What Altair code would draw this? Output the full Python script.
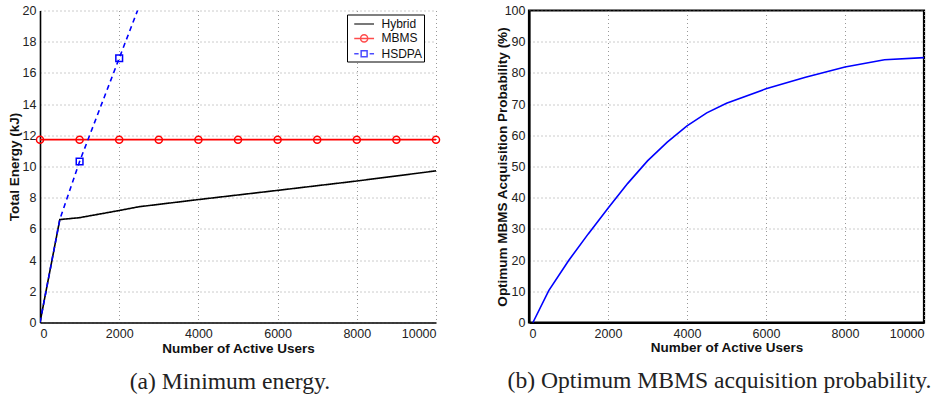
import altair as alt
import pandas as pd

# Left panel: total energy (kJ) versus number of active users
hybrid_users = [0, 500, 1000, 2000, 2500, 4000, 6000, 8000, 10000]
hybrid_energy = [0.0, 6.6, 6.72, 7.18, 7.42, 7.88, 8.47, 9.07, 9.72]

mbms_users = [0, 1000, 2000, 3000, 4000, 5000, 6000, 7000, 8000, 9000, 10000]
mbms_energy = [11.72] * 11

hsdpa_users = [0, 500, 1000, 2000, 2500]
hsdpa_energy = [0.0, 6.6, 10.32, 16.94, 20.24]
hsdpa_marker_users = [1000, 2000]
hsdpa_marker_energy = [10.32, 16.94]

# Right panel: optimum MBMS acquisition probability (%)
prob_users = [100, 500, 1000, 1500, 2000, 2500, 3000, 3500, 4000, 4500,
              5000, 6000, 7000, 8000, 9000, 10000]
prob_values = [0.0, 10.2, 19.8, 28.4, 36.6, 44.6, 51.8, 57.8, 63.0, 67.2,
               70.3, 74.9, 78.6, 81.9, 84.2, 84.9]

series_names = ["Hybrid", "MBMS", "HSDPA"]
series_colors = ["#000000", "#ff0000", "#0000ff"]

# legend glyphs (line + marker) as SVG paths in symbol units
legend_paths = [
    "M-0.32,0L2.48,0",
    "M-0.32,0L2.48,0M1.58,0A0.5,0.5,0,1,1,0.58,0A0.5,0.5,0,1,1,1.58,0",
    "M-0.32,0L0.3,0M0.66,-0.42L1.5,-0.42L1.5,0.42L0.66,0.42ZM1.86,0L2.48,0",
]

lines = pd.concat([
    pd.DataFrame({"users": hybrid_users, "energy": hybrid_energy, "series": "Hybrid"}),
    pd.DataFrame({"users": mbms_users, "energy": mbms_energy, "series": "MBMS"}),
    pd.DataFrame({"users": hsdpa_users, "energy": hsdpa_energy, "series": "HSDPA"}),
])
mbms_pts = pd.DataFrame({"users": mbms_users, "energy": mbms_energy})
hsdpa_pts = pd.DataFrame({"users": hsdpa_marker_users, "energy": hsdpa_marker_energy})
prob = pd.DataFrame({"users": prob_users, "prob": prob_values})

FONT = "Liberation Sans"
SERIF = "Liberation Serif"
LABEL_SIZE = 12.5
TITLE_SIZE = 13.5


def x_axis(domain_width, title_y):
    return alt.Axis(
        values=list(range(0, 10001, 2000)), format="d", ticks=False,
        labelFontSize=LABEL_SIZE, labelFont=FONT, labelColor="#222",
        labelPadding=5, labelOverlap=False,
        title="Number of Active Users", titleFont=FONT, titleFontSize=TITLE_SIZE,
        titleFontWeight="bold", titleColor="#111",
        titleY=title_y, titleBaseline="middle",
        domainColor="black", domainWidth=domain_width,
        grid=True, gridColor="#999", gridDash=[1, 3], gridWidth=1,
    )


def y_axis(values, title, domain_width, title_x):
    return alt.Axis(
        values=values, ticks=False, format="d",
        labelFontSize=LABEL_SIZE, labelFont=FONT, labelColor="#222",
        labelPadding=4, labelOverlap=False,
        title=title, titleFont=FONT, titleFontSize=TITLE_SIZE,
        titleFontWeight="bold", titleColor="#111",
        titleX=title_x, titleBaseline="middle",
        domainColor="black", domainWidth=domain_width,
        grid=True, gridColor="#999", gridDash=[1, 3], gridWidth=1,
    )


x_scale = alt.Scale(domain=[0, 10000], nice=False)

x_left = alt.X("users:Q", scale=x_scale, axis=x_axis(1.6, 26))
y_left = alt.Y("energy:Q", scale=alt.Scale(domain=[0, 20], nice=False),
               axis=y_axis(list(range(0, 21, 2)), "Total Energy (kJ)", 1.6, -25.5))

series_legend = alt.Legend(
    title=None, orient="none", legendX=307, legendY=4,
    labelFont=FONT, labelFontSize=12, labelColor="#111",
    labelExpr="datum.label + '\u00a0\u00a0\u00a0'",
    symbolSize=200, symbolStrokeWidth=1.5, symbolFillColor="transparent",
    padding=1.5, rowPadding=0.4, labelOffset=17,
    strokeColor="black", fillColor="white", cornerRadius=0,
)
color_enc = alt.Color(
    "series:N",
    scale=alt.Scale(domain=series_names, range=series_colors),
    legend=series_legend,
)

energy_lines = alt.Chart(lines).mark_line(strokeWidth=1.6, clip=True).encode(
    x=x_left, y=y_left,
    color=color_enc,
    strokeDash=alt.StrokeDash(
        "series:N",
        scale=alt.Scale(domain=series_names, range=[[1, 0], [1, 0], [5, 4]]),
        legend=None,
    ),
    order="users:Q",
)

mbms_marks = alt.Chart(mbms_pts).mark_point(
    shape="circle", filled=False, size=50, strokeWidth=1.5, color="#ff0000", opacity=1
).encode(x=x_left, y=y_left)

hsdpa_marks = alt.Chart(hsdpa_pts).mark_point(
    shape="square", filled=False, size=45, strokeWidth=1.5, color="#0000ff", opacity=1
).encode(x=x_left, y=y_left)

# legend-only layer: carries the series shapes, draws no marks
legend_layer = alt.Chart(lines).mark_point(filled=False, strokeWidth=1.5).encode(
    x=x_left, y=y_left, color=color_enc,
    shape=alt.Shape("series:N",
                    scale=alt.Scale(domain=series_names, range=legend_paths),
                    legend=series_legend),
).transform_filter("datum.users < 0")

left = alt.layer(energy_lines, mbms_marks, hsdpa_marks, legend_layer).properties(
    width=396, height=312,
    view=alt.ViewBackground(stroke=None),
    title=alt.TitleParams(
        "(a) Minimum energy.", orient="bottom", anchor="middle",
        font=SERIF, fontSize=23.6, fontWeight="normal", color="#222",
        offset=15, dx=-8,
    ),
)

right = alt.Chart(prob).mark_line(color="#0000ff", strokeWidth=1.6).encode(
    x=alt.X("users:Q", scale=x_scale, axis=x_axis(2.2, 25)),
    y=alt.Y("prob:Q", scale=alt.Scale(domain=[0, 100], nice=False),
            axis=y_axis(list(range(0, 101, 10)),
                        "Optimum MBMS Acquisition Probability (%)", 2.2, -26.7)),
).properties(
    width=395, height=312,
    view=alt.ViewBackground(stroke="black", strokeWidth=2.2),
    title=alt.TitleParams(
        "(b) Optimum MBMS acquisition probability.", orient="bottom",
        anchor="middle", font=SERIF, fontSize=23.6, fontWeight="normal",
        color="#222", offset=15, dx=-7,
    ),
)

chart = alt.hconcat(left, right, spacing=51).resolve_scale(
    color="independent", shape="independent"
).properties(
    padding={"left": 7, "top": 2.5, "right": 5, "bottom": 5},
    background="white",
)

chart.save("out.html", embed_options={"renderer": "svg", "actions": False})
